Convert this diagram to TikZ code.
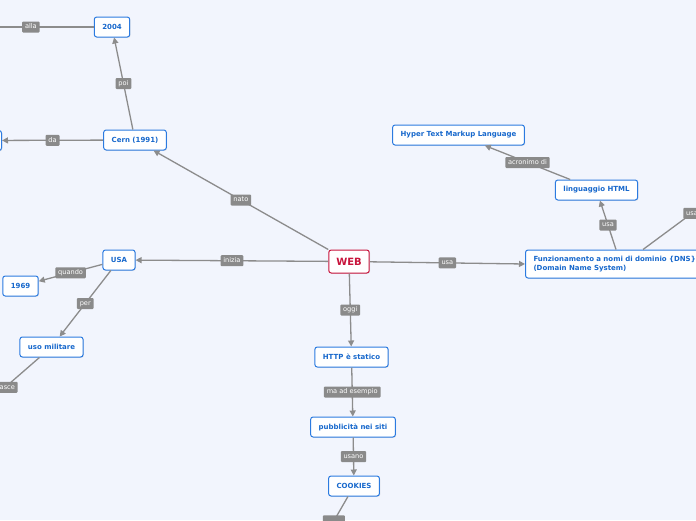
\documentclass[tikz,border=0pt]{standalone}
\usepackage{fontspec}
\setmainfont{DejaVu Sans}
\usetikzlibrary{arrows.meta,shadows}
\definecolor{bgc}{HTML}{F2F5FD}
\definecolor{nodeblue}{HTML}{2C7BE0}
\definecolor{textblue}{HTML}{1768CC}
\definecolor{lblgray}{HTML}{8A8A8A}
\definecolor{edgegray}{HTML}{8C8C8C}
\definecolor{webred}{HTML}{C8143C}
\tikzset{
  mnode/.style={draw=nodeblue, line width=1pt, fill=white, rounded corners=2.5pt,
    text=textblue, font=\fontsize{7}{8.5}\selectfont\bfseries, inner xsep=8pt,
    minimum height=20pt, drop shadow={opacity=0.18, shadow xshift=0.8pt, shadow yshift=-0.8pt}},
  webnode/.style={mnode, draw=webred, text=webred, font=\fontsize{10}{12}\selectfont\bfseries,
    minimum height=23pt, inner xsep=7.5pt},
  lbl/.style={fill=lblgray, text=white, font=\fontsize{6.6}{7.5}\selectfont,
    inner xsep=2.8pt, inner ysep=0pt, minimum height=11pt, text height=4.9pt, text depth=1.4pt,
    rounded corners=1pt},
  edge/.style={draw=edgegray, line width=1.3pt, -{Triangle[length=6pt,width=6pt]}}
}
\begin{document}
\begin{tikzpicture}[x=1pt,y=-1pt]
\useasboundingbox (0,0) rectangle (696,520);
\fill[bgc] (0,0) rectangle (696,520);
\clip (0,0) rectangle (696,520);

% nodes
\node[webnode] (web) at (349,261.5) {WEB};
\node[mnode] (cern) at (135,140) {Cern (1991)};
\node[mnode] (y2004) at (112,27) {2004};
\node[mnode, anchor=east, minimum width=40pt] (leftn) at (2,140.5) {};
\node[mnode] (usa) at (119,260) {USA};
\node[mnode] (y1969) at (20.5,286) {1969};
\node[mnode] (militare) at (51.5,347) {uso militare};
\node[mnode] (http) at (351.5,357) {HTTP è statico};
\node[mnode] (pubbl) at (353,427) {pubblicità nei siti};
\node[mnode] (cookies) at (354,486) {COOKIES};
\node[mnode] (hyper) at (458.5,135) {Hyper Text Markup Language};
\node[mnode] (html) at (596.5,190) {linguaggio HTML};
\node[mnode, anchor=west, align=left, minimum height=28pt, text width=180pt,
      font=\fontsize{7}{9}\selectfont\bfseries] (funz) at (525,264)
  {Funzionamento a nomi di dominio \{DNS\}\\(Domain Name System)};

% offscreen ends
\coordinate (allaend) at (-32,27);
\coordinate (nasceend) at (-29,417);
\coordinate (cookend) at (320,545);
\coordinate (rightend) at (741,177);

% edges
\draw[edge] (web.north west) -- node[lbl]{nato} (cern);
\draw[edge] (cern) -- node[lbl]{poi} (y2004);
\draw[edge] (y2004) -- node[lbl]{alla} (allaend);
\draw[edge] (cern) -- node[lbl]{da} (leftn);
\draw[edge] (web) -- node[lbl]{inizia} (usa);
\draw[edge] (usa) -- node[lbl]{quando} (y1969);
\draw[edge] (usa) -- node[lbl]{per} (militare);
\draw[edge] (militare) -- node[lbl]{nasce} (nasceend);
\draw[edge] (web) -- node[lbl]{oggi} (http);
\draw[edge] (http) -- node[lbl]{ma ad esempio} (pubbl);
\draw[edge] (pubbl) -- node[lbl]{usano} (cookies);
\draw[edge] (cookies) -- node[lbl, minimum width=22pt]{} (cookend);
\draw[edge] (web) -- node[lbl]{usa} (funz.west);
\draw[edge] ([xshift=91pt]funz.north west) -- node[lbl]{usa} (html);
\draw[edge] (html) -- node[lbl]{acronimo di} (hyper);
\draw[edge] ([xshift=118pt]funz.north west) -- node[lbl]{usa} (rightend);
\end{tikzpicture}
\end{document}
